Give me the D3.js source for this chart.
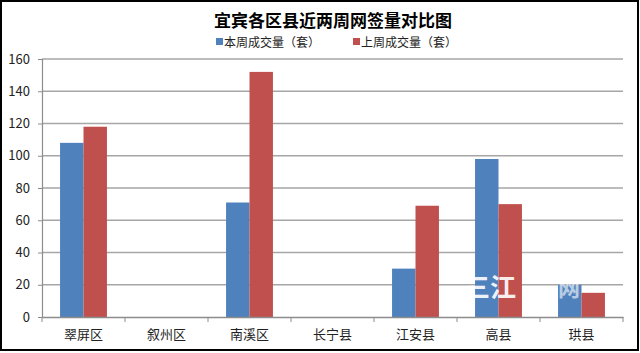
<!DOCTYPE html>
<html><head><meta charset="utf-8">
<script src="https://cdn.jsdelivr.net/npm/d3@7"></script>
<style>body{margin:0;background:#fff}svg{display:block}text{font-family:"Noto Sans CJK SC","Microsoft YaHei",sans-serif}</style>
</head><body>
<svg id="c" width="640" height="353"></svg>
<script>
const categories = ["翠屏区","叙州区","南溪区","长宁县","江安县","高县","珙县"];
const thisWeek = [108, 0, 71, 0, 30, 98, 20];
const lastWeek = [118, 0, 152, 0, 69, 70, 15];
const seriesNames = ["本周成交量（套）","上周成交量（套）"];
const yTicks = [0,20,40,60,80,100,120,140,160];
const title = "宜宾各区县近两周网签量对比图";
const colors = ["#4f81bd","#c0504d"];

const svg = d3.select("#c");
svg.append("rect").attr("x",1).attr("y",1).attr("width",637).attr("height",349)
  .attr("fill","#fff").attr("stroke","#000").attr("stroke-width",2);

const m = {l:42, r:623, t:59, b:317};
const x = d3.scaleBand().domain(categories).range([m.l,m.r]).paddingInner(0).paddingOuter(0);
const xs = d3.scaleBand().domain([0,1]).range([0, x.bandwidth()]).paddingInner(0).paddingOuter(0.77);
const y = d3.scaleLinear().domain([0,160]).range([m.b,m.t]);

// grid
svg.append("g").selectAll("line").data(yTicks.filter(d=>d>0)).join("line")
  .attr("x1",m.l).attr("x2",m.r).attr("y1",d=>y(d)).attr("y2",d=>y(d))
  .attr("stroke","#a6a6a6").attr("stroke-width",1.5);

// y axis
const ya = svg.append("g").attr("transform",`translate(${m.l},0)`)
  .call(d3.axisLeft(y).tickValues(yTicks).tickSize(4).tickPadding(8));
ya.select(".domain").attr("stroke","#8c8c8c").attr("stroke-width",1.2);
ya.selectAll(".tick line").attr("stroke","#8c8c8c");
ya.selectAll(".tick text").attr("font-size",13).attr("fill","#222")
  .attr("font-family","'Liberation Sans',Arial,sans-serif");

// bars
const data = [thisWeek,lastWeek];
data.forEach((vals,si)=>{
  svg.append("g").selectAll("rect").data(categories).join("rect")
    .attr("x",c=>x(c)+xs(si)).attr("width",xs.bandwidth())
    .attr("y",(c,i)=>y(vals[i])).attr("height",(c,i)=>y(0)-y(vals[i]))
    .attr("fill",colors[si]);
});

// x axis
const xa = svg.append("g").attr("transform",`translate(0,${m.b})`)
  .call(d3.axisBottom(x).tickSize(0).tickPadding(13));
xa.select(".domain").attr("stroke","#8c8c8c").attr("stroke-width",1.5);
xa.selectAll(".tick text").attr("font-size",13).attr("fill","#222");
svg.append("g").selectAll("line").data(categories.concat([null])).join("line")
  .attr("x1",(c,i)=>m.l+i*x.step()).attr("x2",(c,i)=>m.l+i*x.step())
  .attr("y1",m.b).attr("y2",m.b+5).attr("stroke","#8c8c8c");

// title
svg.append("text").attr("x",333).attr("y",27).attr("text-anchor","middle")
  .attr("font-size",17).attr("font-weight","bold").attr("fill","#000").text(title);

// legend
const lx = [216, 353];
seriesNames.forEach((n,i)=>{
  svg.append("rect").attr("x",lx[i]).attr("y",38).attr("width",7).attr("height",7).attr("fill",colors[i]);
  svg.append("text").attr("x",lx[i]+8).attr("y",47).attr("font-size",12).attr("fill","#222").text(n);
});

// watermark
svg.append("text").attr("x",464).attr("y",297).attr("font-size",26).attr("font-weight","bold").attr("fill","#fff").attr("opacity",0.9).text("三江");
svg.append("text").attr("x",558).attr("y",296).attr("font-size",22).attr("font-weight","bold").attr("fill","#fff").attr("opacity",0.6).text("网");
</script>
</body></html>
